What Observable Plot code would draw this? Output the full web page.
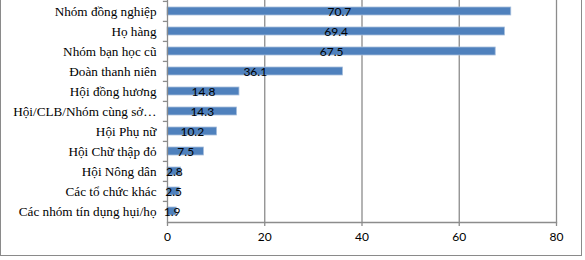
<!DOCTYPE html>
<html>
<head>
<meta charset="utf-8">
<script src="https://cdn.jsdelivr.net/npm/d3@7"></script>
<script src="https://cdn.jsdelivr.net/npm/@observablehq/plot@0.6"></script>
<style>
  html, body { margin: 0; padding: 0; background: #fff; }
  #wrap { position: relative; width: 585px; height: 260px; overflow: hidden; }
  #border { position: absolute; left: 0; top: -3px; width: 582px; height: 259px;
            border: 1.5px solid #8a8a8a; box-sizing: border-box; pointer-events: none; }
</style>
</head>
<body>
<div id="wrap"><div id="border"></div></div>
<script>
const categories = [
  "Nhóm đồng nghiệp",
  "Họ hàng",
  "Nhóm bạn học cũ",
  "Đoàn thanh niên",
  "Hội đồng hương",
  "Hội/CLB/Nhóm cùng sở…",
  "Hội Phụ nữ",
  "Hội Chữ thập đỏ",
  "Hội Nông dân",
  "Các tổ chức khác",
  "Các nhóm tín dụng hụi/họ"
];
const values = [70.7, 69.4, 67.5, 36.1, 14.8, 14.3, 10.2, 7.5, 2.8, 2.5, 1.9];
const xTicks = [0, 20, 40, 60, 80];
const gridTicks = [20, 40, 60, 80];

const data = categories.map((c, i) => ({category: c, value: values[i]}));

const W = 585, H = 260, mTop = 0, mBottom = 38;
const step = (H - mTop - mBottom) / categories.length;

const chart = Plot.plot({
  width: W,
  height: H,
  marginLeft: 167,
  marginRight: 29,
  marginTop: mTop,
  marginBottom: mBottom,
  style: {background: "transparent", overflow: "visible"},
  x: {domain: [0, 80], ticks: xTicks, label: null},
  y: {domain: categories, paddingInner: 0.6, paddingOuter: 0.3, label: null},
  marks: [
    Plot.ruleX(gridTicks, {stroke: "#8c8c8c", strokeWidth: 1.3}),
    Plot.barX(data, {y: "category", x: "value", fill: "#4f81bd", stroke: "#a7bfdd", strokeWidth: 0.8}),
    Plot.ruleX([0], {stroke: "#8c8c8c", strokeWidth: 1.3}),
    Plot.frame({anchor: "bottom", stroke: "#8c8c8c", strokeWidth: 1.3}),
    Plot.ruleY(categories, {y: d => d, x1: -0.85, x2: 0, dy: -step / 2, stroke: "#8c8c8c", strokeWidth: 1.3}),
    Plot.text(data, {y: "category", x: d => d.value / 2, text: d => d.value.toFixed(1),
      fill: "#000", fontSize: 12, fontFamily: "Lato", dy: 1}),
    Plot.axisX(xTicks, {tickSize: 4, tickPadding: 6, stroke: "#8c8c8c", strokeWidth: 1.3,
      fontSize: 12, fontFamily: "Lato", fill: "#000", label: null}),
    Plot.axisY({tickSize: 0, tickPadding: 11, fontSize: 13.2, fontFamily: "Liberation Serif",
      fill: "#000", label: null})
  ]
});
document.getElementById("wrap").prepend(chart);
</script>
</body>
</html>
